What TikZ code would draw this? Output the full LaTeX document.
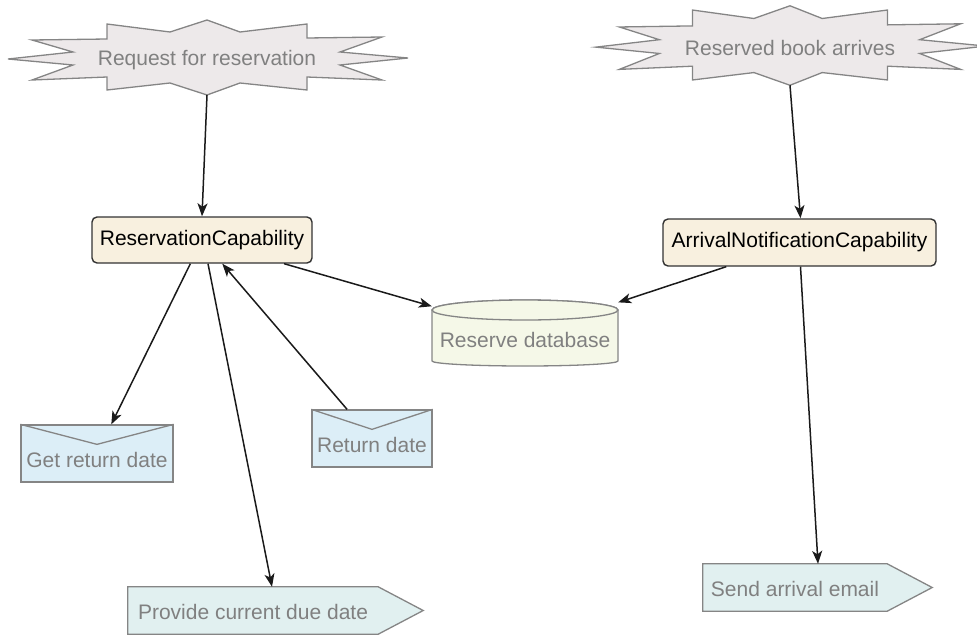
\documentclass[tikz,border=0pt]{standalone}
\usepackage{fontspec}
\setmainfont{Liberation Sans}
\usetikzlibrary{arrows.meta,backgrounds}
\definecolor{txtgrey}{HTML}{808080}
\definecolor{edgegrey}{HTML}{858585}
\definecolor{burstfill}{HTML}{EDE9EA}
\definecolor{capfill}{HTML}{F8F0DF}
\definecolor{dbfill}{HTML}{F5F8E8}
\definecolor{envfill}{HTML}{DCEEF7}
\definecolor{sigfill}{HTML}{E1F0F0}
\definecolor{arrowcol}{HTML}{1A1A1A}
\newcommand\lowered[2]{\raisebox{-#1}[\height][\depth]{#2}}
\begin{document}
\begin{tikzpicture}[x=1pt,y=-1pt,
  every node/.style={font=\fontsize{21}{25}\selectfont, inner sep=0pt},
  burstbox/.style={minimum width=200pt, minimum height=66pt, text=txtgrey},
  burst/.style={draw=edgegrey, fill=burstfill, line width=1.3pt, line join=miter},
  capbox/.style={draw=black!80, fill=capfill, rounded corners=5pt, line width=1.4pt, text=black},
  dbbox/.style={minimum width=186pt, minimum height=66pt, text=txtgrey},
  dbshape/.style={draw=edgegrey, fill=dbfill, line width=1.3pt},
  envbox/.style={draw=edgegrey, fill=envfill, line width=1.3pt, text=txtgrey},
  envline/.style={draw=edgegrey, line width=1.3pt},
  sigbox/.style={minimum height=47pt, text=txtgrey},
  sigshape/.style={draw=edgegrey, fill=sigfill, line width=1.3pt, line join=miter},
  conn/.style={draw=arrowcol, line width=1.5pt, -{Stealth[length=13pt,width=10pt,inset=3.5pt]}}
]
\useasboundingbox (0,0) rectangle (977,637);

% events (bursts)
\node[burstbox] (s1) at (207,57) {\lowered{3pt}{Request for reservation}};
\node[burstbox, minimum width=195pt, minimum height=70pt] (s2) at (790,45) {\lowered{3pt}{Reserved book arrives}};
\begin{scope}[on background layer]
  \begin{scope}[shift={(s1.center)}]
    \draw[burst] (-100,-33) -- (-37,-25) -- (0,-37) -- (33,-25) -- (100,-33) -- (100,-19) -- (175,-20) -- (133,-5) -- (201,1) -- (133,8) -- (175,23) -- (100,20) -- (100,33) -- (33,26) -- (0,38) -- (-37,26) -- (-100,33) -- (-100,20) -- (-175,23) -- (-134,8) -- (-199,2) -- (-134,-5) -- (-175,-17) -- (-100,-18) -- cycle;
    \coordinate (s1tip) at (0,38);
  \end{scope}
  \begin{scope}[shift={(s2.center)}, xscale=0.975, yscale=1.06]
    \draw[burst] (-100,-33) -- (-37,-25) -- (0,-37) -- (33,-25) -- (100,-33) -- (100,-19) -- (175,-20) -- (133,-5) -- (201,1) -- (133,8) -- (175,23) -- (100,20) -- (100,33) -- (33,26) -- (0,38) -- (-37,26) -- (-100,33) -- (-100,20) -- (-175,23) -- (-134,8) -- (-199,2) -- (-134,-5) -- (-175,-17) -- (-100,-18) -- cycle;
    \coordinate (s2tip) at (0,38);
  \end{scope}
\end{scope}

% capabilities
\node[capbox, minimum width=220pt, minimum height=46pt] (rc) at (202,240) {ReservationCapability};
\node[capbox, minimum width=273pt, minimum height=47pt] (anc) at (799.5,242.5) {ArrivalNotificationCapability};

% database
\node[dbbox] (db) at (525,333) {\lowered{7pt}{Reserve database}};
\begin{scope}[on background layer, shift={(db.center)}]
  \draw[dbshape] (-93,-23) -- (-93,28) arc[start angle=180, end angle=360, x radius=93pt, y radius=5pt] -- (93,-23) arc[start angle=0, end angle=180, x radius=93pt, y radius=10pt] -- cycle;
  \draw[dbshape] (0,-23) ellipse[x radius=93pt, y radius=10pt];
\end{scope}

% messages (envelopes)
\node[envbox, minimum width=152pt, minimum height=57pt] (grd) at (97,453.5) {\lowered{6.5pt}{Get return date}};
\draw[envline] (grd.north west) -- ([yshift=-20pt]grd.north) -- (grd.north east);
\node[envbox, minimum width=120pt, minimum height=57pt] (rd) at (372,438.5) {\lowered{6.5pt}{Return date}};
\draw[envline] (rd.north west) -- ([yshift=-20pt]rd.north) -- (rd.north east);

% outgoing signals
\node[sigbox, minimum width=250pt] (pcd) at (253,610.5) {\lowered{1pt}{Provide current due date}};
\node[sigbox, minimum width=184pt] (sae) at (795,587.5) {\lowered{1pt}{Send arrival email}};
\begin{scope}[on background layer]
  \draw[sigshape] (pcd.north west) -- (pcd.north east) -- ([xshift=45pt]pcd.east) -- (pcd.south east) -- (pcd.south west) -- cycle;
  \draw[sigshape] (sae.north west) -- (sae.north east) -- ([xshift=45pt]sae.east) -- (sae.south east) -- (sae.south west) -- cycle;
\end{scope}

% connectors
\draw[conn] (s1tip) -- (rc.north);
\draw[conn] (s2tip) -- ([xshift=1pt]anc.north);
\draw[conn] (rc) -- (db);
\draw[conn] (anc) -- (db);
\draw[conn] (rc) -- (grd);
\draw[conn] ([xshift=6pt]rc.south) -- ([xshift=19pt]pcd.north);
\draw[conn] (rd) -- (rc);
\draw[conn] ([xshift=1pt]anc.south) -- ([xshift=23pt]sae.north);
\end{tikzpicture}
\end{document}
